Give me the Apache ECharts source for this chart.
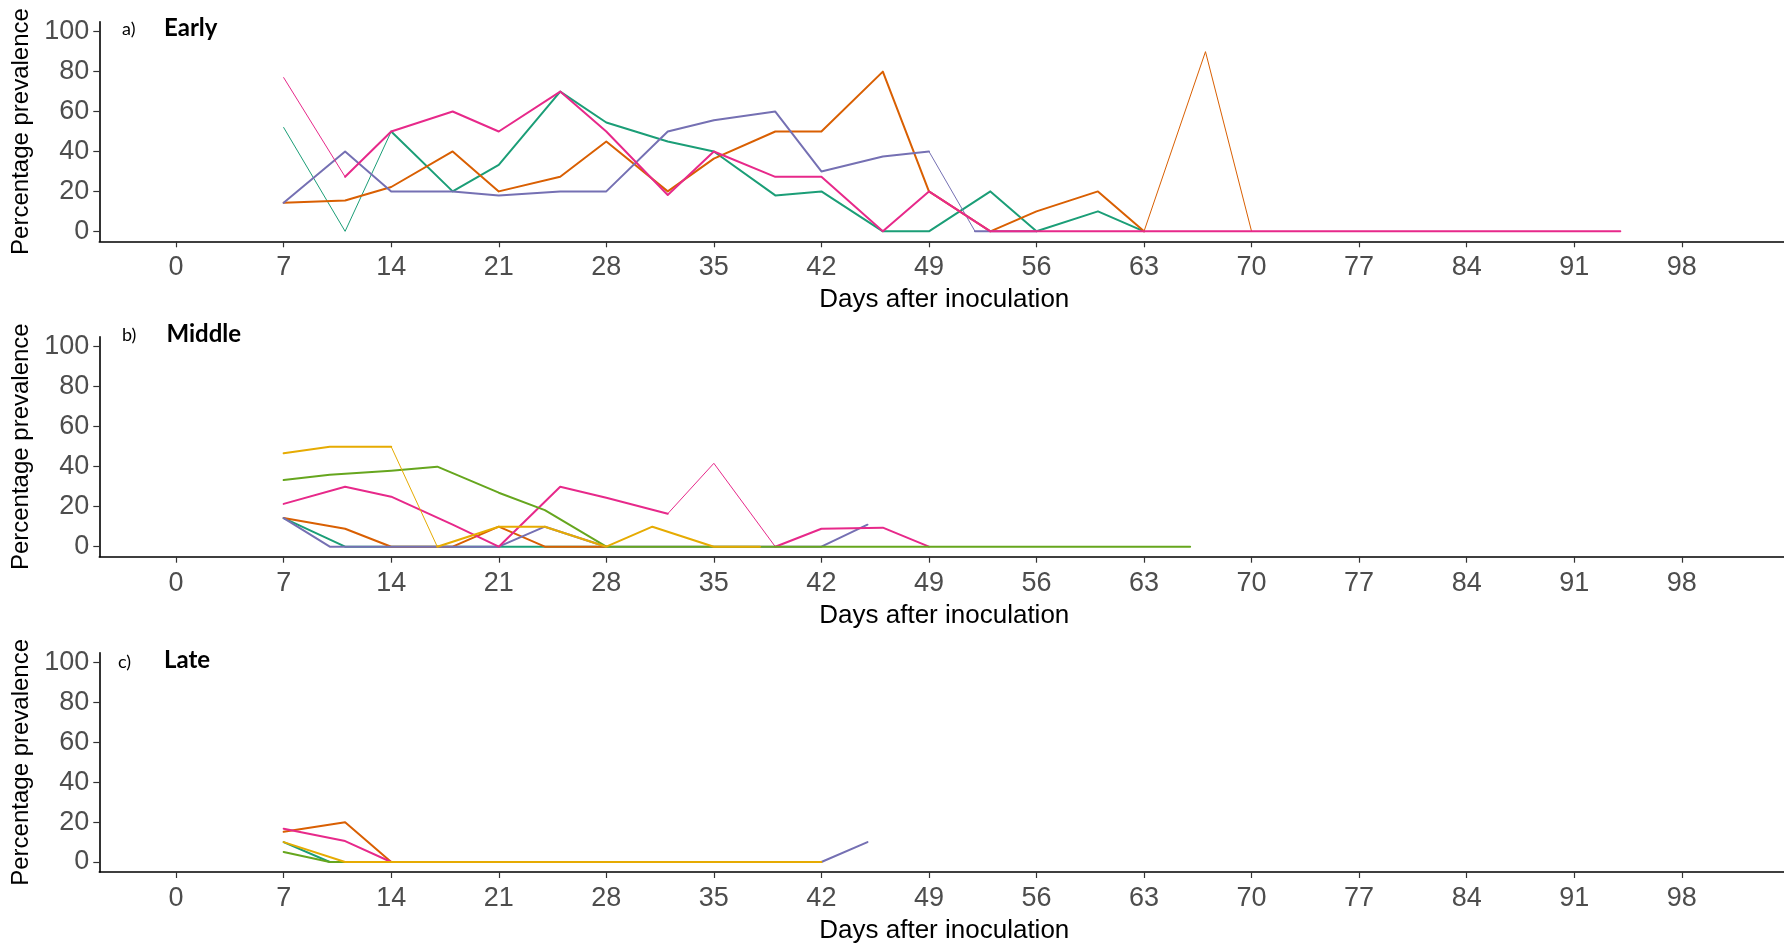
<!DOCTYPE html>
<html>
<head>
<meta charset="utf-8">
<title>Percentage prevalence by days after inoculation</title>
<script src="https://cdn.jsdelivr.net/npm/echarts@6/dist/echarts.min.js"></script>
<style>
  html, body { margin: 0; padding: 0; background: #fff; }
  #chart { width: 1784px; height: 945px; }
</style>
</head>
<body>
<div id="chart"></div>
<script>
// ---- Tick labels -------------------------------------------------------
const dayTicks = [0, 7, 14, 21, 28, 35, 42, 49, 56, 63, 70, 77, 84, 91, 98];
const prevTicks = [0, 20, 40, 60, 80, 100];

// ---- Panel a) Early ----------------------------------------------------
const earlyTealDays   = [7, 11, 14, 18, 21, 25, 28, 32, 35, 39, 42, 46, 49, 53, 56, 60, 63];
const earlyTealVals   = [52, 0, 50, 20, 33.3, 70, 54.5, 45, 40, 18, 20, 0, 0, 20, 0, 10, 0];
const earlyOrangeDays = [7, 11, 14, 18, 21, 25, 28, 32, 35, 39, 42, 46, 49, 53, 56, 60, 63, 67, 70];
const earlyOrangeVals = [14.3, 15.4, 22.2, 40, 20, 27.3, 45, 20, 36.4, 50, 50, 80, 20, 0, 10, 20, 0, 90, 0];
const earlyPurpleDays = [7, 11, 14, 18, 21, 25, 28, 32, 35, 39, 42, 46, 49, 52, 56];
const earlyPurpleVals = [14.3, 40, 20, 20, 18, 20, 20, 50, 55.6, 60, 30, 37.5, 40, 0, 0];
const earlyPinkDays   = [7, 11, 14, 18, 21, 25, 28, 32, 35, 39, 42, 46, 49, 53, 56, 60, 63, 67, 70, 74, 77, 81, 84, 88, 91, 94];
const earlyPinkVals   = [77, 27.3, 50, 60, 50, 70, 50, 18.2, 40, 27.3, 27.3, 0, 20, 0, 0, 0, 0, 0, 0, 0, 0, 0, 0, 0, 0, 0];

// ---- Panel b) Middle ---------------------------------------------------
const midTealDays   = [7, 11, 14, 17, 21, 24, 28];
const midTealVals   = [14.3, 0, 0, 0, 0, 0, 0];
const midOrangeDays = [7, 11, 14, 18, 21, 24, 28];
const midOrangeVals = [14.3, 9, 0, 0, 10, 0, 0];
const midPurpleDays = [7, 10, 14, 17, 21, 24, 28, 31, 35, 38, 42, 45];
const midPurpleVals = [14.3, 0, 0, 0, 0, 10, 0, 0, 0, 0, 0, 11];
const midPinkDays   = [7, 11, 14, 18, 21, 25, 28, 32, 35, 39, 42, 46, 49];
const midPinkVals   = [21.4, 30, 25, 11, 0, 30, 24.5, 16.5, 41.7, 0, 9, 9.5, 0];
const midGreenDays  = [7, 10, 14, 17, 21, 24, 28, 31, 35, 38, 42, 45, 49, 52, 56, 59, 63, 66];
const midGreenVals  = [33.3, 36, 38, 40, 27, 18.3, 0, 0, 0, 0, 0, 0, 0, 0, 0, 0, 0, 0];
const midYellowDays = [7, 10, 14, 17, 21, 24, 28, 31, 35, 38];
const midYellowVals = [46.7, 50, 50, 0, 10, 10, 0, 10, 0, 0];

// ---- Panel c) Late -----------------------------------------------------
const lateTealDays   = [7, 10, 14];
const lateTealVals   = [10, 0, 0];
const lateOrangeDays = [7, 11, 14];
const lateOrangeVals = [15.2, 20, 0];
const latePurpleDays = [14, 17, 21, 24, 28, 31, 35, 38, 42, 45];
const latePurpleVals = [0, 0, 0, 0, 0, 0, 0, 0, 0, 10];
const latePinkDays   = [7, 11, 14];
const latePinkVals   = [16.7, 10.5, 0];
const lateGreenDays  = [7, 10, 14];
const lateGreenVals  = [5, 0, 0];
const lateYellowDays = [7, 11, 14, 17, 21, 24, 28, 31, 35, 38, 42];
const lateYellowVals = [10, 0, 0, 0, 0, 0, 0, 0, 0, 0, 0];

// Dark2 colours, in draw order
const COLORS = {
  teal: '#1B9E77', orange: '#D95F02', purple: '#7570B3',
  pink: '#E7298A', green: '#66A61E', yellow: '#E6AB02'
};

const panels = [
  {
    tag: 'a)', title: 'Early', grid: { top: 21.7, height: 219.6 }, tagX: 122, titleX: 164, labelY: 30,
    lines: [
      { color: COLORS.teal,   days: earlyTealDays,   vals: earlyTealVals,   thin: [7, 11] },
      { color: COLORS.orange, days: earlyOrangeDays, vals: earlyOrangeVals, thin: [63, 67] },
      { color: COLORS.purple, days: earlyPurpleDays, vals: earlyPurpleVals, thin: [49] },
      { color: COLORS.pink,   days: earlyPinkDays,   vals: earlyPinkVals,   thin: [7] }
    ]
  },
  {
    tag: 'b)', title: 'Middle', grid: { top: 336.7, height: 220 }, tagX: 122, titleX: 166.5, labelY: 336,
    lines: [
      { color: COLORS.teal,   days: midTealDays,   vals: midTealVals,   thin: [] },
      { color: COLORS.orange, days: midOrangeDays, vals: midOrangeVals, thin: [] },
      { color: COLORS.purple, days: midPurpleDays, vals: midPurpleVals, thin: [] },
      { color: COLORS.pink,   days: midPinkDays,   vals: midPinkVals,   thin: [32, 35] },
      { color: COLORS.green,  days: midGreenDays,  vals: midGreenVals,  thin: [] },
      { color: COLORS.yellow, days: midYellowDays, vals: midYellowVals, thin: [14] }
    ]
  },
  {
    tag: 'c)', title: 'Late', grid: { top: 652.7, height: 219.3 }, tagX: 118, titleX: 164, labelY: 662.7,
    lines: [
      { color: COLORS.teal,   days: lateTealDays,   vals: lateTealVals,   thin: [] },
      { color: COLORS.orange, days: lateOrangeDays, vals: lateOrangeVals, thin: [] },
      { color: COLORS.purple, days: latePurpleDays, vals: latePurpleVals, thin: [] },
      { color: COLORS.pink,   days: latePinkDays,   vals: latePinkVals,   thin: [] },
      { color: COLORS.green,  days: lateGreenDays,  vals: lateGreenVals,  thin: [] },
      { color: COLORS.yellow, days: lateYellowDays, vals: lateYellowVals, thin: [] }
    ]
  }
];

const FONT = "'Liberation Sans', Arial, sans-serif";
const grids = [], xAxes = [], yAxes = [], series = [], graphics = [];

panels.forEach((p, gi) => {
  // The x range runs slightly past the right edge of the canvas, so the
  // grid must not be squeezed back inside the container.
  grids.push({
    left: 99.3, width: 1690, top: p.grid.top, height: p.grid.height,
    containLabel: false, outerBoundsMode: 'none'
  });

  xAxes.push({
    gridIndex: gi, type: 'value', min: -5, max: 105,
    name: 'Days after inoculation', nameLocation: 'middle', nameGap: 46,
    nameTextStyle: { color: '#000', fontSize: 26, fontFamily: FONT },
    splitLine: { show: false },
    axisLine: { onZero: false, lineStyle: { color: '#000', width: 1.6 } },
    axisTick: { customValues: dayTicks, length: 6, lineStyle: { color: '#333', width: 1.2 } },
    axisLabel: { customValues: dayTicks, margin: 13, color: '#4D4D4D', fontSize: 27, fontFamily: FONT }
  });

  yAxes.push({
    gridIndex: gi, type: 'value', min: -5, max: 105,
    name: 'Percentage prevalence', nameLocation: 'middle', nameGap: 61,
    nameTextStyle: { color: '#000', fontSize: 24, fontFamily: FONT },
    splitLine: { show: false },
    axisLine: { show: true, onZero: false, lineStyle: { color: '#000', width: 1.6 } },
    axisTick: { show: true, customValues: prevTicks, length: 6, lineStyle: { color: '#333', width: 1.2 } },
    axisLabel: { customValues: prevTicks, margin: 10, color: '#4D4D4D', fontSize: 27, fontFamily: FONT }
  });

  // Each line is split into runs of equal stroke width; a run starting on
  // a day listed in `thin` is drawn with the lighter stroke.
  p.lines.forEach(line => {
    const n = line.days.length;
    let runStart = 0;
    const widthAt = i => (line.thin.indexOf(line.days[i]) >= 0 ? 1 : 2);
    for (let i = 1; i <= n - 1; i++) {
      const last = i === n - 1;
      if (last || widthAt(i) !== widthAt(runStart)) {
        const data = [];
        for (let k = runStart; k <= i; k++) data.push([line.days[k], line.vals[k]]);
        series.push({
          type: 'line', xAxisIndex: gi, yAxisIndex: gi, data,
          symbol: 'none', silent: true, animation: false,
          lineStyle: { color: line.color, width: widthAt(runStart), cap: 'round', join: 'round' }
        });
        runStart = i;
      }
    }
  });

  graphics.push({
    type: 'text', left: p.tagX, top: p.labelY - 10,
    style: { text: p.tag, fill: '#000', font: "18px Lato, 'Open Sans', sans-serif" }
  });
  graphics.push({
    type: 'text', left: p.titleX, top: p.labelY - 14,
    style: { text: p.title, fill: '#000', font: "bold 24px Lato, 'Open Sans', sans-serif" }
  });
});

const chart = echarts.init(document.getElementById('chart'), null, { renderer: 'canvas' });
chart.setOption({
  backgroundColor: '#fff',
  animation: false,
  grid: grids,
  xAxis: xAxes,
  yAxis: yAxes,
  series,
  graphic: graphics
});
</script>
</body>
</html>
